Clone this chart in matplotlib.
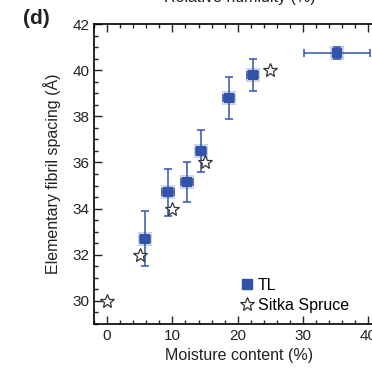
import matplotlib.pyplot as plt
from matplotlib.ticker import MultipleLocator
from matplotlib.lines import Line2D

# === DATA ===
tl_moisture = [5.8, 9.3, 12.2, 14.4, 18.6, 22.3, 35.2]
tl_spacing = [32.7, 34.7, 35.15, 36.5, 38.8, 39.8, 40.75]
tl_xerr = [0.8, 0.9, 0.9, 0.8, 0.8, 0.8, 5.1]
tl_yerr = [1.2, 1.0, 0.87, 0.9, 0.9, 0.7, 0.25]

sitka_moisture = [0, 5, 10, 15, 25]
sitka_spacing = [30, 32, 34, 36, 40]

blue = "#3353a8"

plt.rcParams['font.family'] = ['Liberation Sans', 'DejaVu Sans']

fig = plt.figure(figsize=(3.72, 3.70), dpi=100)
# axes run past the right edge, like the cropped original
ax = fig.add_axes([94 / 372, 46 / 370, 290 / 372, 300 / 370])

ax.errorbar(tl_moisture, tl_spacing, xerr=tl_xerr, yerr=tl_yerr,
            fmt='none', ecolor=blue, elinewidth=1.1, capsize=3, capthick=1.1, zorder=2)
ax.plot(tl_moisture, tl_spacing, 's', color=blue, alpha=0.25, markersize=10.5,
        markeredgewidth=0, zorder=3)
ax.plot(tl_moisture, tl_spacing, 's', color=blue, markersize=7.5,
        markeredgewidth=0, zorder=4)
ax.plot(sitka_moisture, sitka_spacing, '*', markerfacecolor='white',
        markeredgecolor='#333333', markeredgewidth=0.9, markersize=10, zorder=5)

ax.set_xlim(-2, 42.4)
ax.set_ylim(29, 42)
ax.xaxis.set_major_locator(MultipleLocator(10))
ax.xaxis.set_minor_locator(MultipleLocator(2))
ax.yaxis.set_major_locator(MultipleLocator(2))
ax.yaxis.set_minor_locator(MultipleLocator(0.5))
ax.tick_params(which='both', direction='in', top=True, labelsize=11,
               colors='#222222', width=1.0)
ax.tick_params(which='major', length=6)
ax.tick_params(which='minor', length=3)
ax.tick_params(axis='y', which='both', right=False)
for s in ax.spines.values():
    s.set_linewidth(1.2)

ax.set_xlabel("Moisture content (%)", fontsize=11.5, color='#222222', labelpad=4)
ax.set_ylabel("Elementary fibril spacing (Å)", fontsize=11.5, color='#222222', labelpad=8)

# cropped top axis label
fig.text(240 / 372, 1 - 5 / 370, "Relative humidity (%)", ha='center', va='bottom',
         fontsize=11.5, color='#222222')
fig.text(36 / 372, 1 - 18 / 370, "(d)", ha='center', va='center',
         fontsize=15, fontweight='bold', color='#222222')

handles = [Line2D([], [], marker='s', color=blue, linestyle='none', markersize=7.5),
           Line2D([], [], marker='*', markerfacecolor='white', markeredgecolor='#333333',
                  markeredgewidth=0.9, linestyle='none', markersize=10)]
ax.legend(handles, ["TL", "Sitka Spruce"], loc='lower left', bbox_to_anchor=(0.46, 0.0),
          frameon=False, fontsize=11.5, handletextpad=0.2, handlelength=1.0,
          labelspacing=0.3, borderaxespad=0.3)

plt.savefig("out.png", dpi=100)
plt.close()
